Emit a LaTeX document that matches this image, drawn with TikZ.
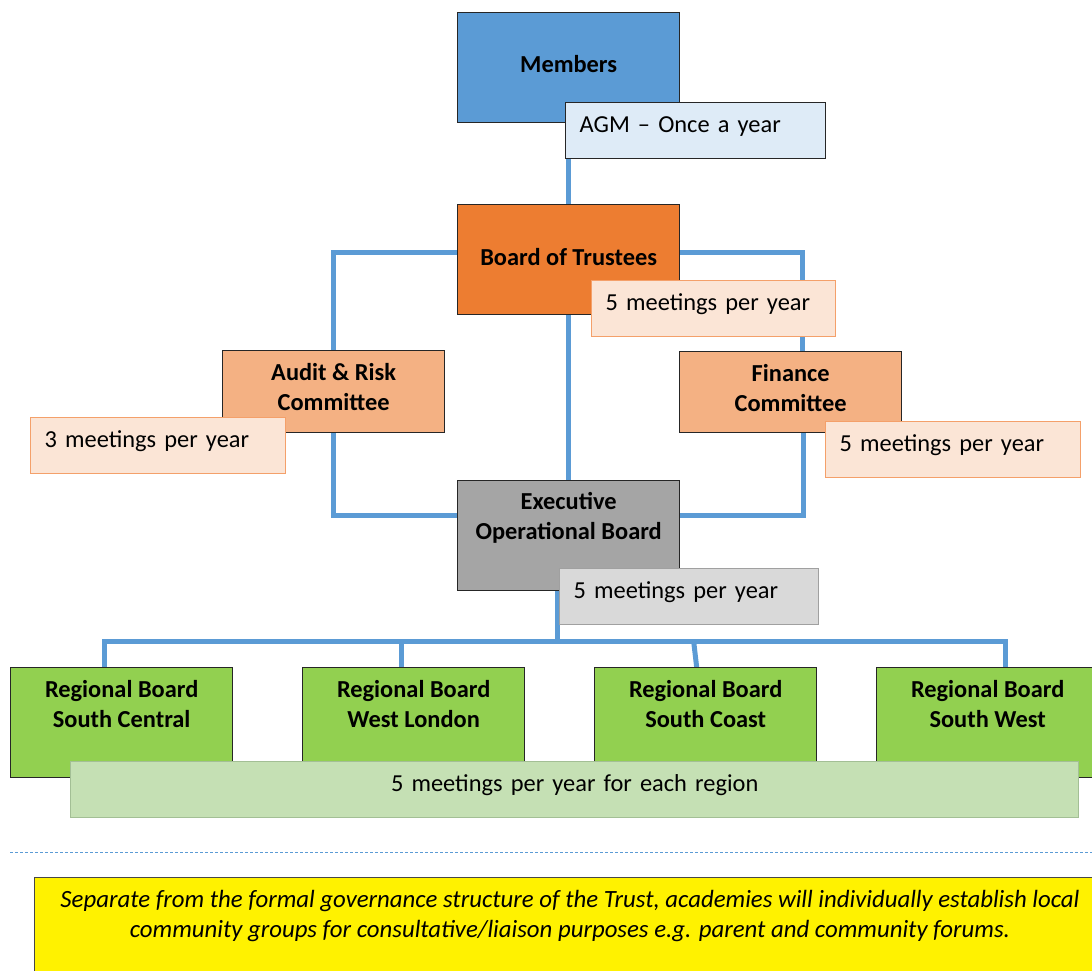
\documentclass[tikz,border=0pt]{standalone}
\usepackage{fontspec}
\setmainfont{Carlito}
\usetikzlibrary{backgrounds,positioning}

\definecolor{trustblue}{HTML}{5B9BD5}
\definecolor{agmblue}{HTML}{DEEBF7}
\definecolor{boardorange}{HTML}{ED7D31}
\definecolor{notepeach}{HTML}{FBE5D6}
\definecolor{noteedge}{HTML}{F4A06A}
\definecolor{committee}{HTML}{F4B183}
\definecolor{execgrey}{HTML}{A5A5A5}
\definecolor{execnote}{HTML}{D9D9D9}
\definecolor{execedge}{HTML}{A0A0A0}
\definecolor{regiongreen}{HTML}{92D050}
\definecolor{regionnote}{HTML}{C5E0B4}
\definecolor{regionedge}{HTML}{A3BF95}
\definecolor{boxedge}{HTML}{262626}

\tikzset{
  box/.style={draw=boxedge, line width=1.3pt, anchor=north west, minimum width=222pt,
    minimum height=110pt, inner sep=0pt, align=center,
    font=\fontsize{24.4}{30}\selectfont\bfseries},
  note/.style={draw=boxedge, line width=1.3pt, anchor=north west, minimum height=56pt,
    inner xsep=14pt, inner ysep=0pt, text height=20pt, text depth=16pt, text width=#1,
    align=left, font=\fontsize{24.4}{30}\selectfont},
  link/.style={draw=trustblue, line width=5pt},
}

\begin{document}
\begin{tikzpicture}[x=1pt,y=-1pt]
  \useasboundingbox (0,0) rectangle (1092,971);

  % top of the trust
  \node[box, fill=trustblue, text depth=8pt] (members) at (457,12) {Members};
  \node[note=232pt, fill=agmblue] (agm) at (565,102) {AGM -- Once a year};

  \node[box, fill=boardorange, text depth=6pt] (board) at (457,204) {Board of Trustees};
  \node[note=216pt, fill=notepeach, draw=noteedge] (boardmeet) at (591,280) {5 meetings per year};

  % committees
  \node[box, fill=committee, minimum height=82pt, text depth=9pt] (audit) at (222,350) {Audit \& Risk\\Committee};
  \node[note=227pt, fill=notepeach, draw=noteedge] (auditmeet) at (30,417) {3 meetings per year};

  \node[box, fill=committee, minimum height=81pt, text depth=9pt] (finance) at (679,351) {Finance\\Committee};
  \node[note=227pt, fill=notepeach, draw=noteedge] (financemeet) at (825,421) {5 meetings per year};

  \node[box, fill=execgrey, text depth=40pt] (exec) at (457,480) {Executive\\Operational Board};
  \node[note=231pt, fill=execnote, draw=execedge] (execmeet) at (559,568) {5 meetings per year};

  % regions
  \node[box, fill=regiongreen, text depth=38pt] (rsc) at (10,667) {Regional Board\\South Central};
  \node[box, fill=regiongreen, text depth=38pt] (rwl) at (302,667) {Regional Board\\West London};
  \node[box, fill=regiongreen, text depth=38pt] (rcoast) at (594,667) {Regional Board\\South Coast};
  \node[box, fill=regiongreen, text depth=38pt] (rsw) at (876,667) {Regional Board\\South West};
  \node[note=980pt, fill=regionnote, draw=regionedge, align=center] (regionmeet) at (70,761)
    {5 meetings per year for each region};

  \coordinate (bus) at ([xshift=-11pt,yshift=-50pt]exec.south);

  \begin{scope}[on background layer]
    \draw[link] (agm.south -| board.north) -- (board.north);
    \draw[link] ([yshift=7pt]board.west) -| (audit.north);
    \draw[link] ([yshift=7pt]board.east) -| ([xshift=12pt]finance.north);
    \draw[link] (board.south) -- (exec.north);
    \draw[link] (audit.south) |- ([yshift=20pt]exec.west);
    \draw[link] ([xshift=13pt]finance.south) |- ([yshift=20pt]exec.east);
    \draw[link] ([xshift=-11pt]exec.south) -- (bus);
    \draw[link] ([xshift=-17pt]rsc.north) |- (bus) -| ([xshift=18pt]rsw.north);
    \draw[link] ([xshift=-12pt]rwl.north) -- ([xshift=-12pt]rwl.north |- bus);
    \draw[link] ([xshift=-9pt]rcoast.north) -- ([xshift=-12pt]rcoast.north |- bus);
  \end{scope}

  % outside the formal structure
  \draw[trustblue, line width=1pt, dash pattern=on 3pt off 2pt] (10,852) -- (1092,852);
  \node[draw=boxedge!85, line width=1.3pt, fill=yellow, anchor=north west,
    minimum width=1080pt, minimum height=110pt] (forums) at (34,877) {};
  \node[font=\fontsize{24.8}{30}\selectfont\itshape, align=center] (forumtext) at (570,916)
    {Separate from the formal governance structure of the Trust, academies will individually establish local\\
     community groups for consultative/liaison purposes e.g. parent and community forums.};
\end{tikzpicture}
\end{document}
